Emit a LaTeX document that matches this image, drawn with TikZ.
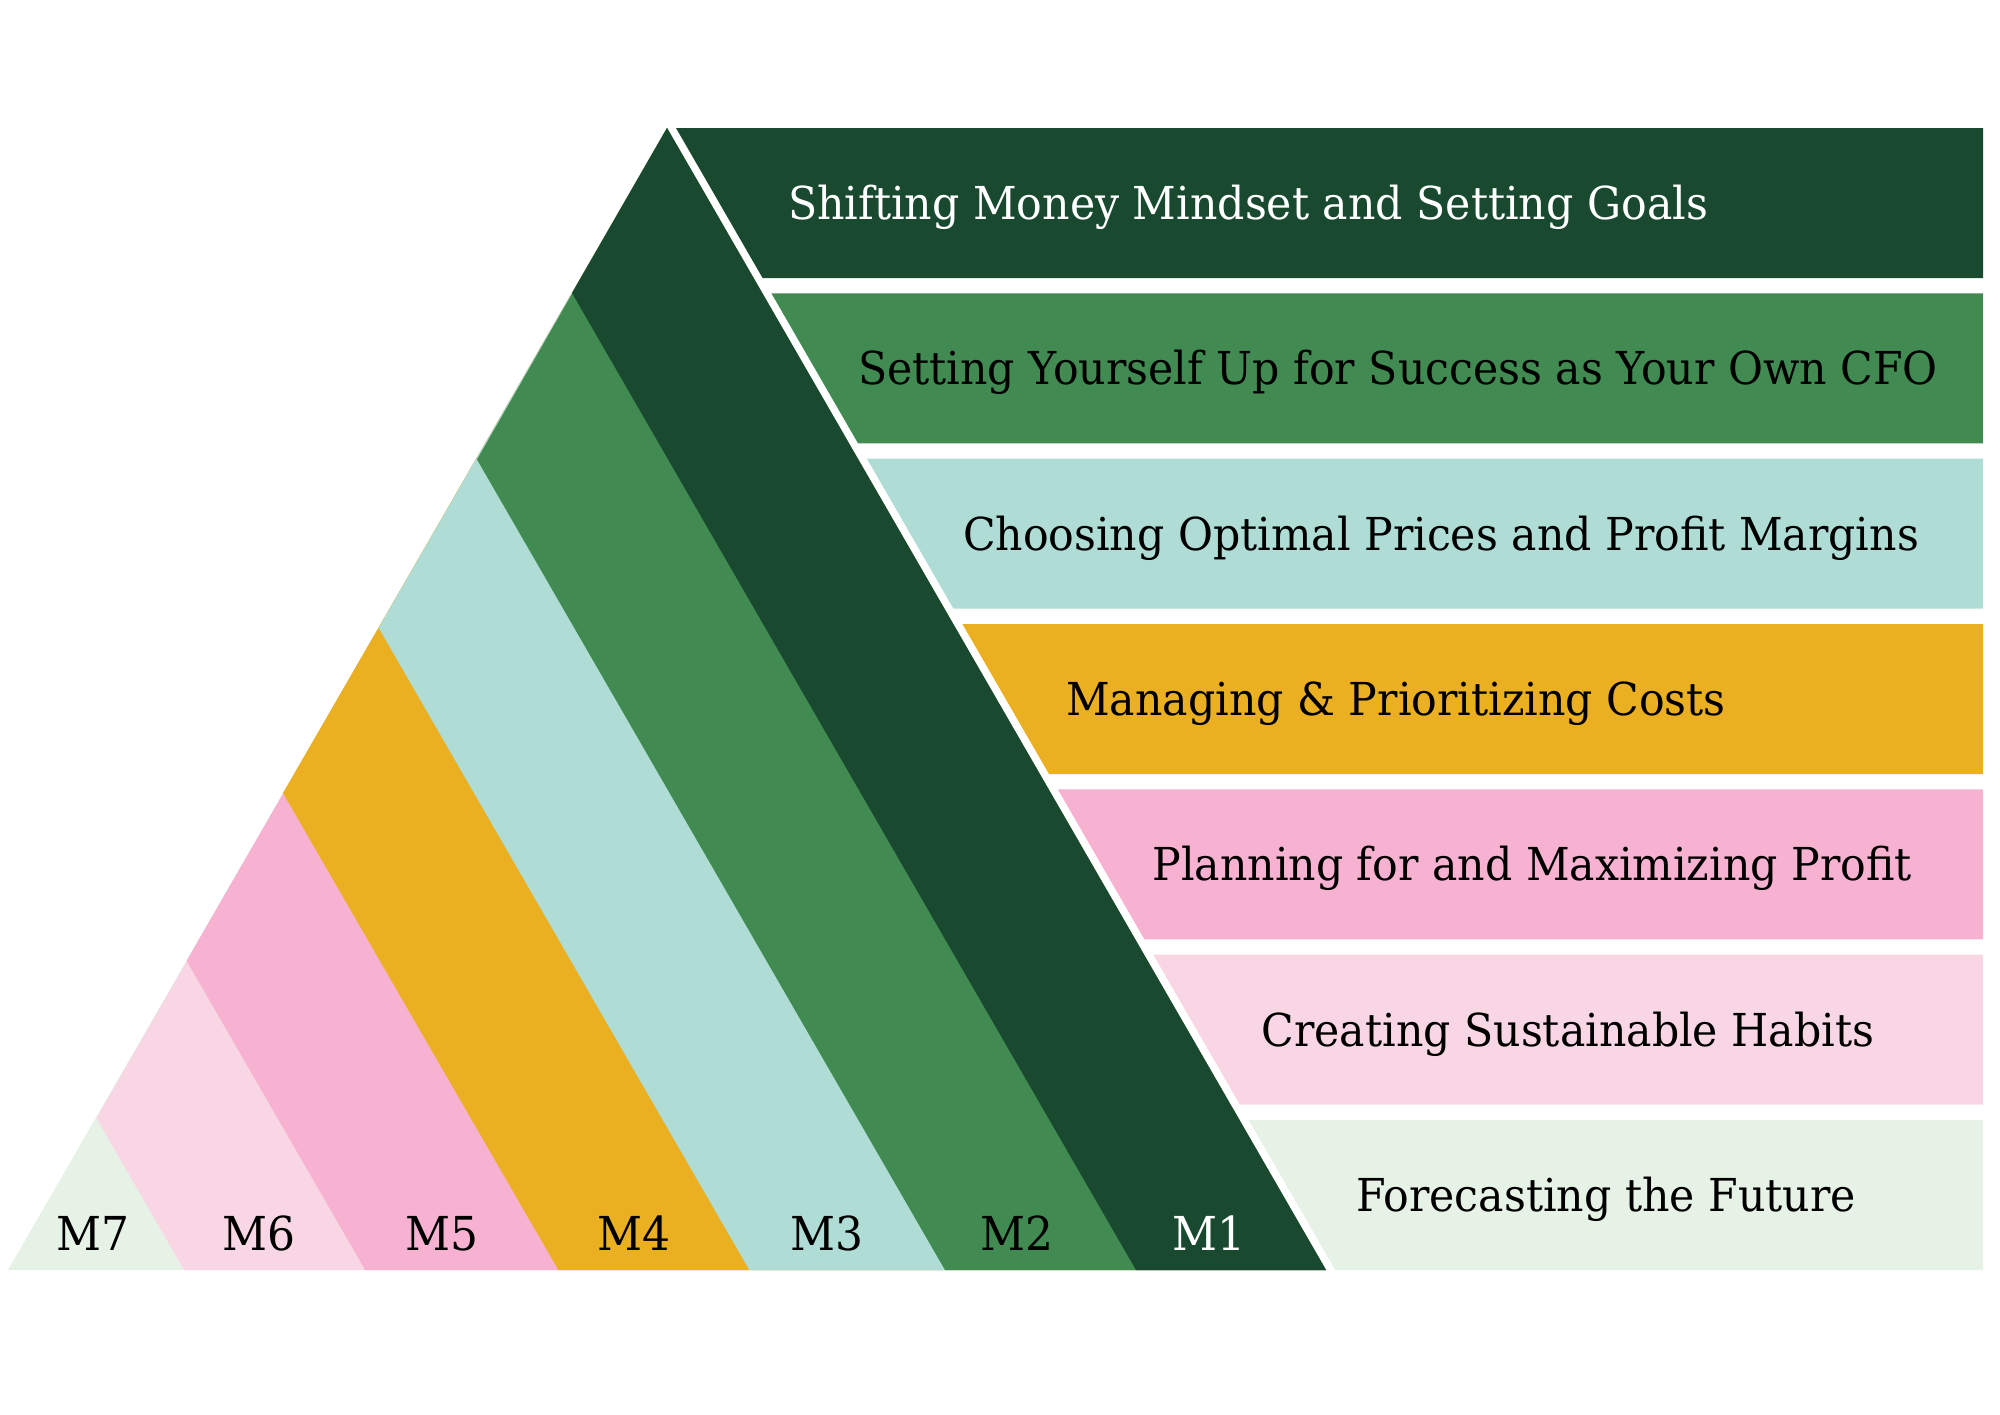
\documentclass[tikz,border=0pt]{standalone}
\usepackage{fontspec}
\setmainfont[FakeStretch=0.94]{DejaVu Serif}
\definecolor{mdark}{HTML}{194A2F}
\definecolor{mgreen}{HTML}{418B52}
\definecolor{mteal}{HTML}{AFDDD6}
\definecolor{mgold}{HTML}{EAB022}
\definecolor{mpink}{HTML}{F6B2D0}
\definecolor{mrose}{HTML}{F9D6E4}
\definecolor{mmint}{HTML}{E7F2E6}
\tikzset{
  lbl/.style={anchor=base,inner sep=0pt,font=\fontsize{12.9pt}{15pt}\selectfont},
  mlbl/.style={anchor=base,inner sep=0pt,font=\fontsize{13.3pt}{15pt}\selectfont}
}
\begin{document}
\begin{tikzpicture}[x=0.01cm,y=-0.01cm]
\useasboundingbox (0,0) rectangle (2000,1414);
% pyramid, stripes laid one over the other
\fill[mmint] (667,128)--(1326,1270)--(8,1270)--cycle;
\fill[mrose] (667,128)--(1326,1270)--(184.2,1270)--(96.4,1118)--cycle;
\fill[mpink] (667,128)--(1326,1270)--(365.2,1270)--(186.6,960.7)--cycle;
\fill[mgold] (667,128)--(1326,1270)--(558.4,1270)--(283,793)--cycle;
\fill[mteal] (667,128)--(1326,1270)--(749.4,1270)--(378.6,627.7)--cycle;
\fill[mgreen] (667,128)--(1326,1270)--(945,1270)--(477,459.5)--cycle;
\fill[mdark] (667,128)--(1326,1270)--(1136,1270)--(572,293)--cycle;
% bars
\fill[mdark] (676,128)--(1983,128)--(1983,278)--(762.6,278)--cycle;
\fill[mgreen] (771.4,293.3)--(1983,293.3)--(1983,443.3)--(858,443.3)--cycle;
\fill[mteal] (866.9,458.7)--(1983,458.7)--(1983,608.7)--(953.5,608.7)--cycle;
\fill[mgold] (962.4,624)--(1983,624)--(1983,774)--(1049,774)--cycle;
\fill[mpink] (1057.8,789.3)--(1983,789.3)--(1983,939.3)--(1144.4,939.3)--cycle;
\fill[mrose] (1153.3,954.7)--(1983,954.7)--(1983,1104.7)--(1239.9,1104.7)--cycle;
\fill[mmint] (1248.7,1120)--(1983,1120)--(1983,1270)--(1335.3,1270)--cycle;
% bar texts
\node[lbl,white] (t1) at (1248,219.5) {Shifting Money Mindset and Setting Goals};
\node[lbl] (t2) at (1398,384.8) {Setting Yourself Up for Success as Your Own CFO};
\node[lbl] (t3) at (1441,550.2) {Choosing Optimal Prices and Profit Margins};
\node[lbl] (t4) at (1396,715.5) {Managing \& Prioritizing Costs};
\node[lbl] (t5) at (1532,880.8) {Planning for and Maximizing Profit};
\node[lbl] (t6) at (1568,1046.2) {Creating Sustainable Habits};
\node[lbl] (t7) at (1606,1211.5) {Forecasting the Future};
% module labels
\node[mlbl,white] (m1) at (1209,1250) {M1};
\node[mlbl] (m2) at (1017,1250) {M2};
\node[mlbl] (m3) at (827,1250) {M3};
\node[mlbl] (m4) at (634,1250) {M4};
\node[mlbl] (m5) at (442,1250) {M5};
\node[mlbl] (m6) at (259,1250) {M6};
\node[mlbl] (m7) at (92.6,1250) {M7};
\end{tikzpicture}
\end{document}
